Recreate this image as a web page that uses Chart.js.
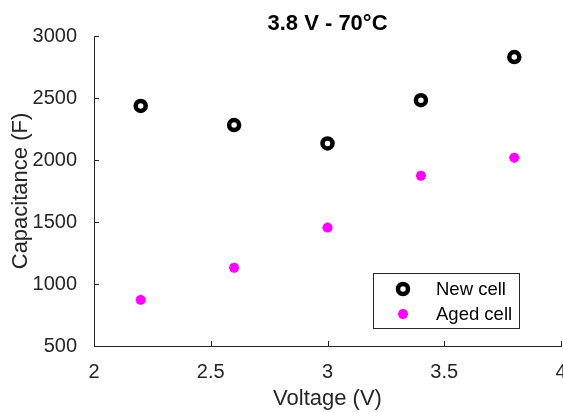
<!DOCTYPE html>
<html>
<head>
<meta charset="utf-8">
<script src="https://cdn.jsdelivr.net/npm/chart.js@4.4.1/dist/chart.umd.min.js"></script>
<style>
  html, body { margin: 0; padding: 0; background: #fff; }
  #wrap { width: 563px; height: 412px; }
</style>
</head>
<body>
<div id="wrap"><canvas id="c" width="563" height="412"></canvas></div>
<script>
const chartTitle = '3.8 V - 70°C';
const xAxisTitle = 'Voltage (V)';
const yAxisTitle = 'Capacitance (F)';
const voltages = [2.2, 2.6, 3.0, 3.4, 3.8];
const newCell = [2436, 2282, 2134, 2482, 2830];
const agedCell = [872, 1131, 1455, 1873, 2019];
const seriesNames = ['New cell', 'Aged cell'];
const xTicks = [2, 2.5, 3, 3.5, 4];
const yTicks = [500, 1000, 1500, 2000, 2500, 3000];

const FONT = '"Liberation Sans", Arial, Helvetica, sans-serif';
const AX = '#262626';

const titlePlugin = {
  id: 'mTitle',
  afterDraw(chart) {
    const { ctx, chartArea } = chart;
    ctx.save();
    ctx.font = 'bold 22px ' + FONT;
    ctx.fillStyle = '#000';
    ctx.textAlign = 'center';
    ctx.textBaseline = 'middle';
    ctx.fillText(chartTitle, (chartArea.left + chartArea.right) / 2, 24);
    ctx.restore();
  }
};

const tickPlugin = {
  id: 'inTicks',
  afterDraw(chart) {
    const { ctx, chartArea, scales } = chart;
    ctx.save();
    ctx.strokeStyle = AX;
    ctx.lineWidth = 1;
    ctx.beginPath();
    scales.x.ticks.forEach(t => {
      const px = Math.round(scales.x.getPixelForValue(t.value)) + 0.5;
      ctx.moveTo(px, chartArea.bottom);
      ctx.lineTo(px, chartArea.bottom - 5);
    });
    scales.y.ticks.forEach(t => {
      const py = Math.round(scales.y.getPixelForValue(t.value)) + 0.5;
      ctx.moveTo(chartArea.left, py);
      ctx.lineTo(chartArea.left + 5, py);
    });
    ctx.stroke();
    ctx.restore();
  }
};

const legendPlugin = {
  id: 'mLegend',
  afterDraw(chart) {
    const { ctx } = chart;
    const bx = 373.5, by = 273.5, bw = 146, bh = 55;
    ctx.save();
    ctx.fillStyle = '#fff';
    ctx.fillRect(bx, by, bw, bh);
    ctx.strokeStyle = AX;
    ctx.lineWidth = 1;
    ctx.strokeRect(bx, by, bw, bh);
    const rows = [289, 314];
    chart.data.datasets.forEach((ds, i) => {
      ctx.save();
      ctx.fillStyle = ds.backgroundColor;
      ctx.strokeStyle = ds.borderColor;
      ctx.lineWidth = ds.borderWidth;
      Chart.helpers.drawPoint(ctx, {
        pointStyle: ds.pointStyle,
        radius: ds.pointRadius,
        borderWidth: ds.borderWidth,
        rotation: 0
      }, 403, rows[i]);
      ctx.restore();
      ctx.font = '18.5px ' + FONT;
      ctx.fillStyle = '#000';
      ctx.textAlign = 'left';
      ctx.textBaseline = 'middle';
      ctx.fillText(ds.label, 436, rows[i] + 1);
    });
    ctx.restore();
  }
};

new Chart(document.getElementById('c'), {
  type: 'scatter',
  data: {
    datasets: [
      {
        label: seriesNames[0],
        data: voltages.map((v, i) => ({ x: v, y: newCell[i] })),
        pointStyle: 'circle',
        pointRadius: 5,
        pointHoverRadius: 5,
        borderWidth: 4.5,
        borderColor: '#000000',
        backgroundColor: '#ffffff'
      },
      {
        label: seriesNames[1],
        data: voltages.map((v, i) => ({ x: v, y: agedCell[i] })),
        pointStyle: 'star',
        pointRadius: 5,
        pointHoverRadius: 5,
        borderWidth: 3.2,
        borderColor: '#ff00ff',
        backgroundColor: '#ff00ff'
      }
    ]
  },
  options: {
    responsive: false,
    animation: false,
    devicePixelRatio: 1,
    layout: { autoPadding: false, padding: { top: 36, right: 2, left: 0, bottom: 0 } },
    plugins: {
      legend: { display: false },
      title: { display: false },
      tooltip: { enabled: false }
    },
    scales: {
      x: {
        type: 'linear',
        min: 2, max: 4,
        afterBuildTicks: s => { s.ticks = xTicks.map(v => ({ value: v })); },
        afterFit: s => { s.height = 66; s.paddingLeft = 0; s.paddingRight = 0; },
        grid: { display: false },
        border: { display: true, color: AX, width: 1 },
        ticks: { color: AX, font: { size: 20, family: FONT }, padding: 6, maxRotation: 0, callback: v => String(v) },
        title: { display: true, text: xAxisTitle, color: AX, font: { size: 22, family: FONT }, padding: { top: 0, bottom: 0 } }
      },
      y: {
        type: 'linear',
        min: 500, max: 3000,
        afterBuildTicks: s => { s.ticks = yTicks.map(v => ({ value: v })); },
        afterFit: s => { s.width = 94; },
        grid: { display: false },
        border: { display: true, color: AX, width: 1 },
        ticks: { color: AX, font: { size: 20, family: FONT }, padding: 9, callback: v => String(v) },
        title: { display: true, text: yAxisTitle, color: AX, font: { size: 22, family: FONT }, padding: { top: 8, bottom: 0 } }
      }
    }
  },
  plugins: [titlePlugin, tickPlugin, legendPlugin]
});
</script>
</body>
</html>
